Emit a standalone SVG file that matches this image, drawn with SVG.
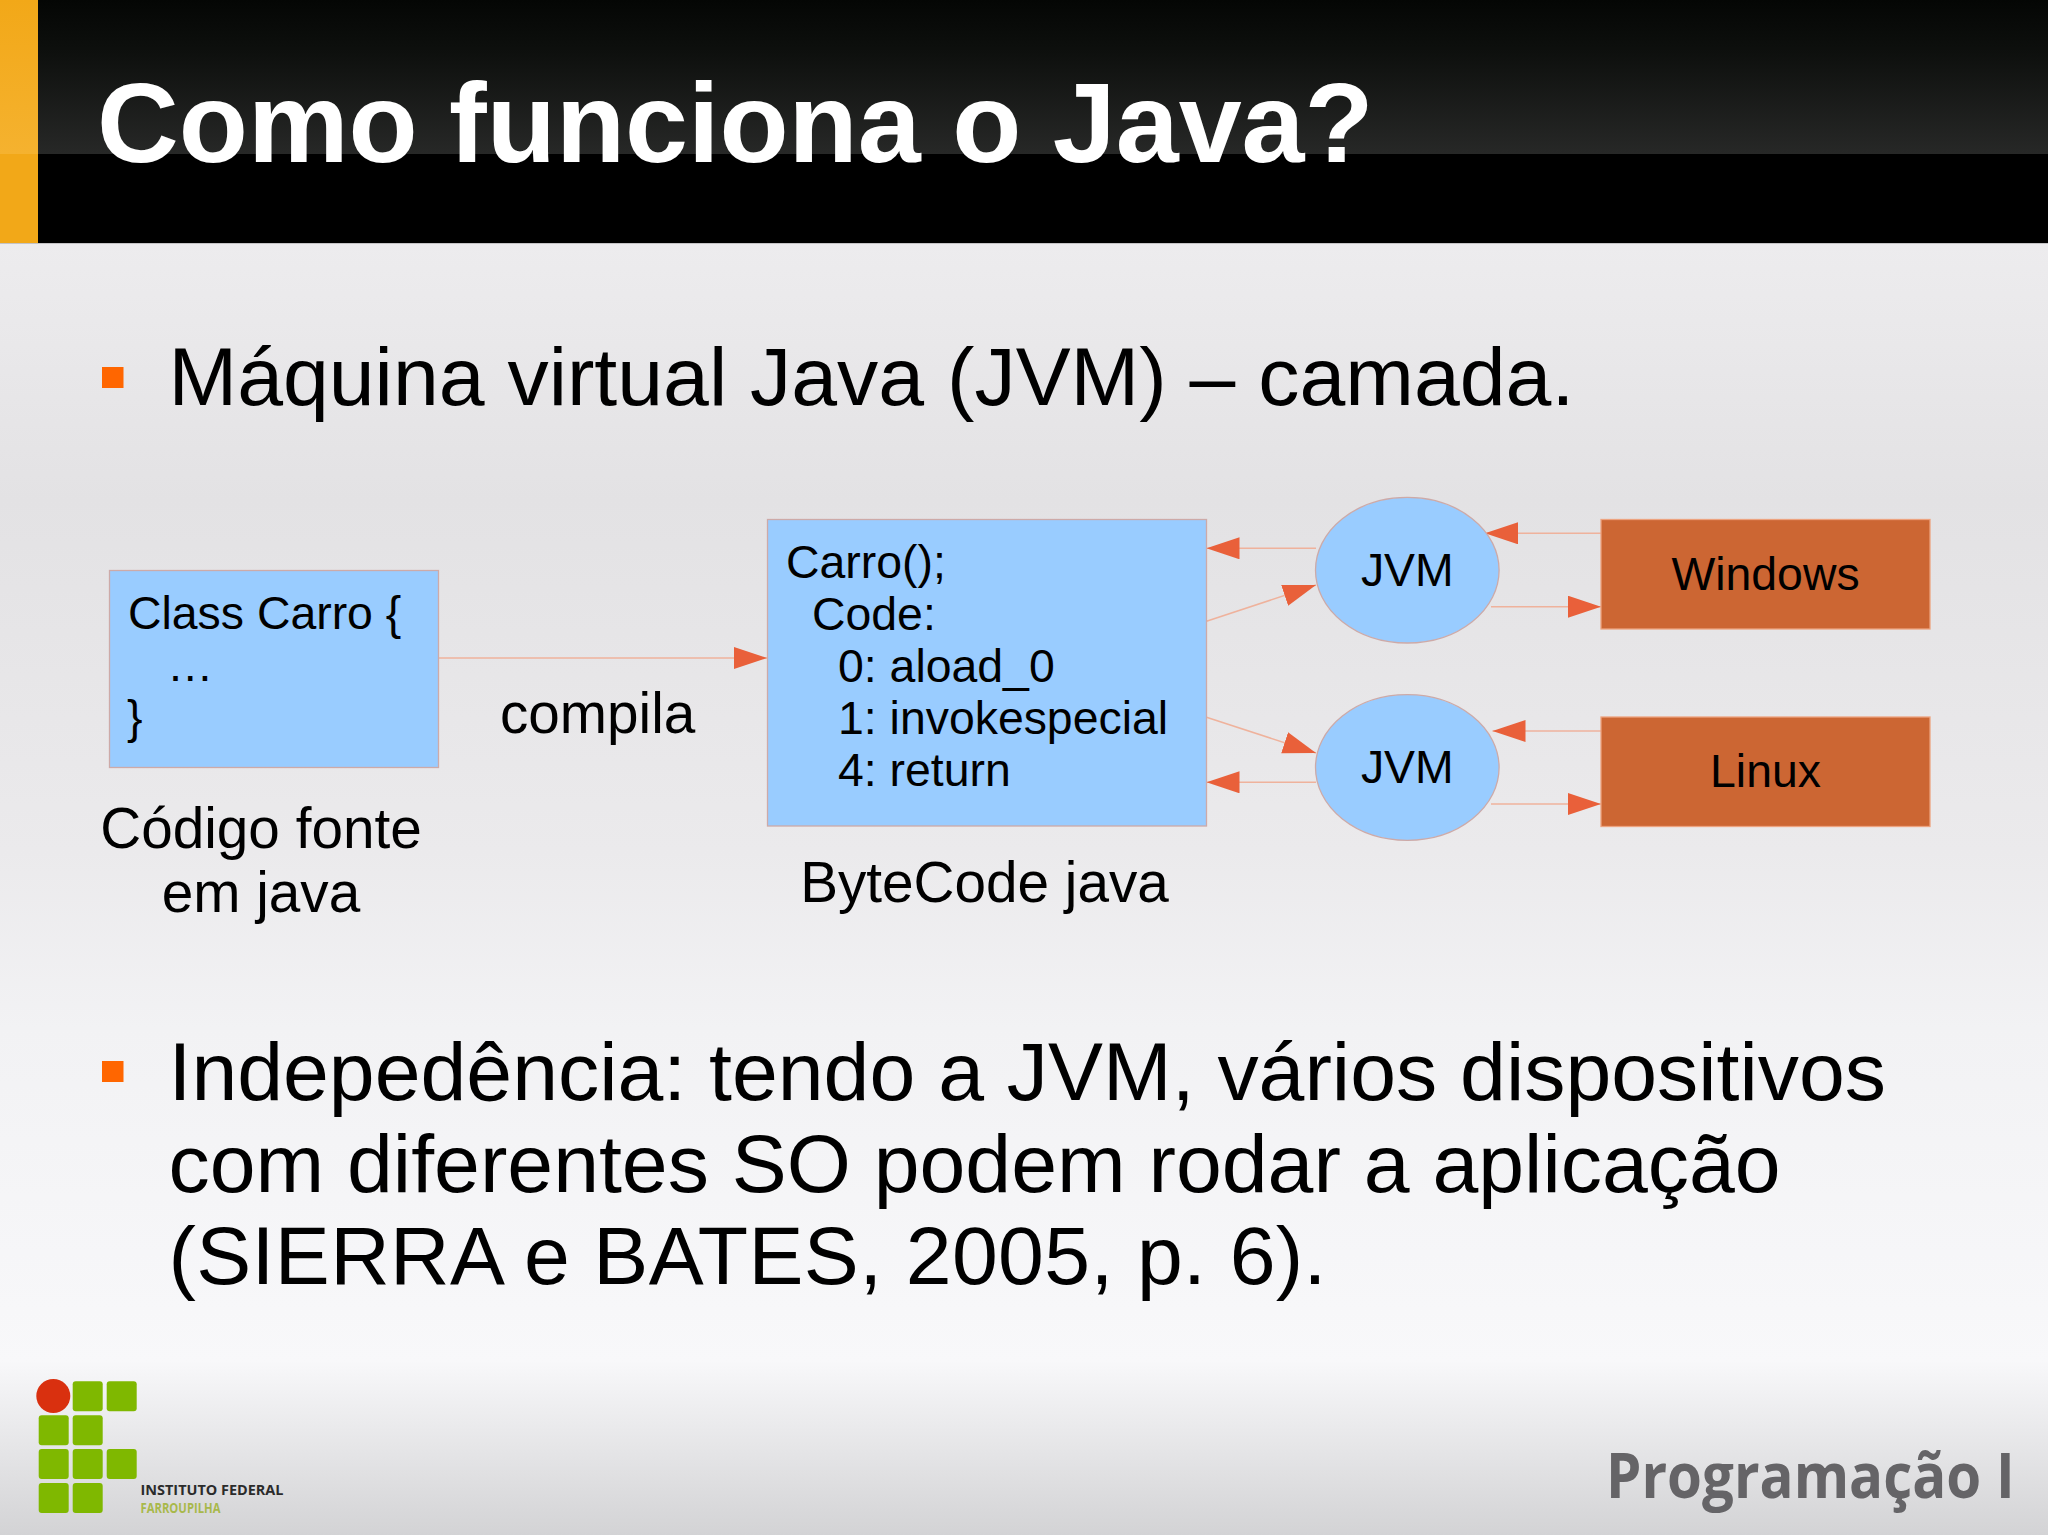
<svg xmlns="http://www.w3.org/2000/svg" width="2048" height="1535" viewBox="0 0 2048 1535">
<style>
text{font-family:"Liberation Sans",Arial,sans-serif;fill:#000}
.body{font-size:82.400px}
.cap{font-size:56.700px}
.code{font-size:46.400px}
.conn{stroke:#efb29c;stroke-width:1.500;fill:none;marker-end:url(#arrow)}
.blue{fill:#99ccff;stroke:#cdaaa8;stroke-width:1.300}
.os{fill:#cc6633;stroke:#eda37f;stroke-width:1.300}
.bullet{fill:#ff6600}
.sq{fill:#7fb800}
</style>
<defs>
<linearGradient id="bg" x1="0" y1="243" x2="0" y2="1365" gradientUnits="userSpaceOnUse">
<stop offset="0" stop-color="#edecee"/><stop offset="0.229" stop-color="#e3e2e4"/><stop offset="0.541" stop-color="#ebeaec"/><stop offset="0.7" stop-color="#f2f2f4"/><stop offset="1" stop-color="#f8f8fa"/>
</linearGradient>
<linearGradient id="foot" x1="0" y1="1360" x2="0" y2="1535" gradientUnits="userSpaceOnUse">
<stop offset="0" stop-color="#f8f8fa"/><stop offset="1" stop-color="#d3d3d5"/>
</linearGradient>
<linearGradient id="gloss" x1="0" y1="0" x2="0" y2="154" gradientUnits="userSpaceOnUse">
<stop offset="0" stop-color="#040604"/><stop offset="0.35" stop-color="#0e100e"/><stop offset="1" stop-color="#272827"/>
</linearGradient>
<linearGradient id="gloss2" x1="0" y1="0" x2="0" y2="154" gradientUnits="userSpaceOnUse">
<stop offset="0" stop-color="#f2a818"/><stop offset="1" stop-color="#f5b22f"/>
</linearGradient>
<marker id="arrow" markerUnits="userSpaceOnUse" markerWidth="34" markerHeight="24" refX="33" refY="11" orient="auto">
<path d="M0 0L33 11L0 22Z" fill="#e9603a"/>
</marker>
</defs>
<g id="background">
<rect width="2048" height="1535" fill="url(#bg)"/>
<rect y="1360" width="2048" height="175" fill="url(#foot)"/>
<rect width="2048" height="243" fill="#000"/>
<rect x="38" width="2010" height="154" fill="url(#gloss)"/>
<rect width="38" height="243" fill="#f2a818"/>
<rect width="38" height="154" fill="url(#gloss2)"/>
<rect y="243" width="2048" height="1" fill="#c4c3c5"/>
</g>
<text id="title" x="97" y="162" font-size="113.200" font-weight="700" style="fill:#fff">Como funciona o Java?</text>
<g id="bullet1">
<rect class="bullet" x="102" y="367" width="21.500" height="21"/>
<text class="body" x="168.500" y="405">Máquina virtual Java (JVM) – camada.</text>
</g>
<g id="bullet2">
<rect class="bullet" x="102" y="1061" width="21.500" height="21"/>
<text class="body" x="168.500" y="1099.500">Indepedência: tendo a JVM, vários dispositivos</text>
<text class="body" x="168.500" y="1192">com diferentes SO podem rodar a aplicação</text>
<text class="body" x="168.500" y="1283.500" textLength="1158" lengthAdjust="spacing">(SIERRA e BATES, 2005, p. 6).</text>
</g>
<g id="connectors">
<line class="conn" x1="439" y1="658" x2="767" y2="658"/>
<line class="conn" x1="1316" y1="548.300" x2="1206.500" y2="548.300"/>
<line class="conn" x1="1206.500" y1="621.300" x2="1316" y2="585"/>
<line class="conn" x1="1206.500" y1="717.300" x2="1316" y2="753"/>
<line class="conn" x1="1316" y1="782.300" x2="1206.500" y2="782.300"/>
<line class="conn" x1="1601" y1="533.300" x2="1485" y2="533.300"/>
<line class="conn" x1="1491" y1="606.700" x2="1601" y2="606.700"/>
<line class="conn" x1="1601" y1="731" x2="1492.500" y2="731"/>
<line class="conn" x1="1491" y1="804" x2="1601" y2="804"/>
</g>
<g id="source">
<rect class="blue" x="109.500" y="570.500" width="329" height="197"/>
<text class="code" x="128" y="628.500">Class Carro {</text>
<text class="code" x="167" y="681">…</text>
<text class="code" x="127" y="733">}</text>
</g>
<text id="compila" class="cap" x="500" y="733">compila</text>
<g id="source-caption">
<text class="cap" x="261" y="848" text-anchor="middle">Código fonte</text>
<text class="cap" x="261" y="912" text-anchor="middle">em java</text>
</g>
<g id="bytecode">
<rect class="blue" x="767.500" y="519.500" width="439" height="306.500"/>
<text class="code" x="786" y="578">Carro();</text>
<text class="code" x="812" y="629.500">Code:</text>
<text class="code" x="838" y="682">0: aload_0</text>
<text class="code" x="838" y="734">1: invokespecial</text>
<text class="code" x="838" y="786">4: return</text>
</g>
<text id="bytecode-caption" class="cap" x="984.500" y="902" text-anchor="middle">ByteCode java</text>
<g id="jvm1">
<ellipse class="blue" cx="1407.300" cy="570.200" rx="91.800" ry="72.800"/>
<text class="code" x="1407.300" y="586" text-anchor="middle">JVM</text>
</g>
<g id="jvm2">
<ellipse class="blue" cx="1407.300" cy="767.500" rx="91.800" ry="72.800"/>
<text class="code" x="1407.300" y="783" text-anchor="middle">JVM</text>
</g>
<g id="windows">
<rect class="os" x="1601" y="519.500" width="329" height="109.500"/>
<text class="code" x="1765.500" y="590" text-anchor="middle">Windows</text>
</g>
<g id="linux">
<rect class="os" x="1601" y="717" width="329" height="109.500"/>
<text class="code" x="1765.500" y="787" text-anchor="middle">Linux</text>
</g>
<g id="logo">
<circle cx="53.300" cy="1396" r="17" fill="#d9300f"/>
<rect class="sq" x="72.700" y="1381.300" width="30" height="30" rx="3"/>
<rect class="sq" x="106.700" y="1381.300" width="30" height="30" rx="3"/>
<rect class="sq" x="38.700" y="1415.300" width="30" height="30" rx="3"/>
<rect class="sq" x="72.700" y="1415.300" width="30" height="30" rx="3"/>
<rect class="sq" x="38.700" y="1449" width="30" height="30" rx="3"/>
<rect class="sq" x="72.700" y="1449" width="30" height="30" rx="3"/>
<rect class="sq" x="106.700" y="1449" width="30" height="30" rx="3"/>
<rect class="sq" x="38.700" y="1483" width="30" height="30" rx="3"/>
<rect class="sq" x="72.700" y="1483" width="30" height="30" rx="3"/>
<text x="140.500" y="1495" font-size="13.500" font-weight="700" textLength="143" lengthAdjust="spacingAndGlyphs" style="font-family:'Open Sans','Liberation Sans',sans-serif;fill:#2b2b2b">INSTITUTO FEDERAL</text>
<text x="140.500" y="1513" font-size="14" font-weight="700" textLength="80" lengthAdjust="spacingAndGlyphs" style="font-family:'Open Sans','Liberation Sans',sans-serif;fill:#a8b84a">FARROUPILHA</text>
</g>
<text id="course" transform="translate(1606 1498) scale(0.9 1)" font-size="62" font-weight="700" textLength="454" lengthAdjust="spacingAndGlyphs" style="font-family:'Open Sans','Noto Sans',sans-serif;fill:#656467">Programação I</text>
</svg>
